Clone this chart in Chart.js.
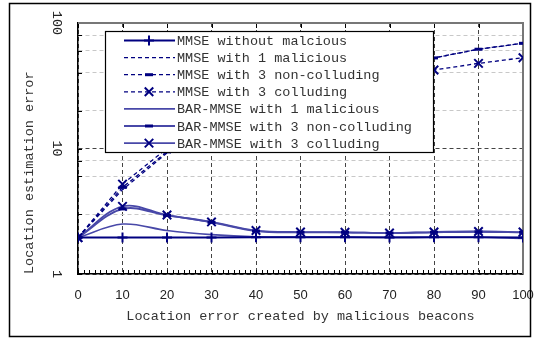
<!DOCTYPE html>
<html>
<head>
<meta charset="utf-8">
<script src="https://cdn.jsdelivr.net/npm/chart.js@4.4.1/dist/chart.umd.min.js"></script>
<style>
  html, body { margin: 0; padding: 0; background: #fff; }
  #wrap { width: 540px; height: 339px; }
</style>
</head>
<body>
<div id="wrap"><canvas id="chart" width="540" height="339"></canvas></div>
<script>
// x: location error created by malicious beacons
const xValues = [0, 10, 20, 30, 40, 50, 60, 70, 80, 90, 100];
const yTickLabels = [1, 10, 100];

// location estimation error
const mmseNone    = [1.95, 1.95, 1.95, 1.95, 1.96, 1.96, 1.96, 1.95, 1.96, 1.96, 1.95];
const mmseOne     = [1.95, 4.7, 9.2, 15, 22, 30, 37, 44, 52.7, 61.8, 68.9];
const mmseThreeNC = [1.95, 4.9, 9.4, 16, 24, 32, 40, 46, 52.7, 61.8, 68.9];
const mmseThreeC  = [1.95, 5.2, 10, 16, 22, 28, 33, 38, 42.2, 47.7, 52.9];
const barOne      = [1.95, 2.5, 2.22, 2.06, 1.98, 1.97, 1.97, 1.96, 1.96, 1.96, 1.92];
const barThreeNC  = [1.95, 3.3, 2.93, 2.58, 2.2, 2.15, 2.15, 2.12, 2.15, 2.17, 2.15];
const barThreeC   = [1.95, 3.46, 2.95, 2.6, 2.22, 2.16, 2.15, 2.12, 2.16, 2.18, 2.16];

const navy = '#000080';
const barBlue = '#4848a8';
const mono = '"Liberation Mono", "Courier New", monospace';
const sans = '"Liberation Sans", Arial, sans-serif';

function series(label, values, opts) {
    return Object.assign({
        label: label,
        data: values.map((v, i) => ({ x: xValues[i], y: v })),
        borderColor: navy,
        backgroundColor: navy,
        borderWidth: 1.3,
        pointRadius: 0,
        pointBorderColor: navy,
        pointBackgroundColor: navy,
        pointBorderWidth: 2,
        tension: 0,
        fill: false
    }, opts);
}

const datasets = [
    series('MMSE without malcious', mmseNone, { borderWidth: 2, pointStyle: 'cross', pointRadius: 5 }),
    series('MMSE with 1 malicious', mmseOne, { borderDash: [4, 3] }),
    series('MMSE with 3 non-colluding', mmseThreeNC, { borderDash: [4, 3], pointStyle: 'line', pointRadius: 4, pointBorderWidth: 3 }),
    series('MMSE with 3 colluding', mmseThreeC, { borderDash: [4, 3], pointStyle: 'crossRot', pointRadius: 6 }),
    series('BAR-MMSE with 1 malicious', barOne, { borderColor: barBlue, borderWidth: 1.6, tension: 0.35 }),
    series('BAR-MMSE with 3 non-colluding', barThreeNC, { borderColor: barBlue, borderWidth: 1.8, tension: 0.35, pointStyle: 'line', pointRadius: 4, pointBorderWidth: 3 }),
    series('BAR-MMSE with 3 colluding', barThreeC, { borderColor: barBlue, borderWidth: 1.8, tension: 0.35, pointStyle: 'crossRot', pointRadius: 6 })
];

function drawMarker(ctx, style, x, y, r) {
    ctx.beginPath();
    if (style === 'cross') {
        ctx.moveTo(x - r, y); ctx.lineTo(x + r, y);
        ctx.moveTo(x, y - r); ctx.lineTo(x, y + r);
    } else if (style === 'crossRot') {
        const d = r * 0.707;
        ctx.moveTo(x - d, y - d); ctx.lineTo(x + d, y + d);
        ctx.moveTo(x - d, y + d); ctx.lineTo(x + d, y - d);
    } else if (style === 'line') {
        ctx.moveTo(x - r, y); ctx.lineTo(x + r, y);
    }
    ctx.stroke();
}

const decor = {
    id: 'decor',
    beforeDraw(chart) {
        const ctx = chart.ctx;
        ctx.save();
        ctx.fillStyle = '#fff';
        ctx.fillRect(0, 0, chart.width, chart.height);
        ctx.restore();
    },
    beforeDatasetsDraw(chart) {
        const { ctx, chartArea: a, scales: { x, y } } = chart;
        ctx.save();
        ctx.strokeStyle = '#000';
        ctx.lineWidth = 1;
        ctx.beginPath();
        // small ticks along the bottom
        for (let v = 0; v <= 100; v += 1.25) {
            const px = Math.round(x.getPixelForValue(v)) + 0.5;
            ctx.moveTo(px, a.bottom);
            ctx.lineTo(px, a.bottom - 4);
        }
        // ticks along the top
        xValues.forEach(v => {
            const px = Math.round(x.getPixelForValue(v)) + 0.5;
            ctx.moveTo(px, a.top);
            ctx.lineTo(px, a.top + 5);
        });
        // log ticks on the left
        y.ticks.forEach(t => {
            const py = Math.round(y.getPixelForValue(t.value)) + 0.5;
            ctx.moveTo(a.left, py);
            ctx.lineTo(a.left + 4, py);
        });
        ctx.stroke();
        // top and right edge of the plot box
        ctx.strokeStyle = '#777';
        ctx.lineWidth = 2;
        ctx.beginPath();
        ctx.moveTo(a.left, a.top);
        ctx.lineTo(a.right, a.top);
        ctx.lineTo(a.right, a.bottom);
        ctx.stroke();
        ctx.restore();
    },
    afterDatasetsDraw(chart) {
        const { ctx, chartArea: a } = chart;
        const x0 = a.left + 27, y0 = a.top + 8, w = 328, h = 121;
        ctx.save();
        ctx.fillStyle = '#fff';
        ctx.fillRect(x0, y0, w, h);
        ctx.strokeStyle = '#000';
        ctx.lineWidth = 1.2;
        ctx.strokeRect(x0 + 0.5, y0 + 0.5, w, h);
        ctx.font = '13.5px ' + mono;
        ctx.textBaseline = 'middle';
        chart.data.datasets.forEach((ds, i) => {
            const ry = y0 + 9.5 + 17.1 * i;
            ctx.strokeStyle = ds.borderColor;
            ctx.lineWidth = ds.borderWidth;
            ctx.setLineDash(ds.borderDash || []);
            ctx.beginPath();
            ctx.moveTo(x0 + 19, ry);
            ctx.lineTo(x0 + 70, ry);
            ctx.stroke();
            ctx.setLineDash([]);
            if (ds.pointStyle && ds.pointRadius) {
                ctx.strokeStyle = ds.pointBorderColor;
                ctx.lineWidth = ds.pointBorderWidth;
                drawMarker(ctx, ds.pointStyle, x0 + 44, ry, ds.pointRadius);
            }
            ctx.fillStyle = '#333';
            ctx.fillText(ds.label, x0 + 72, ry + 1);
        });
        ctx.restore();
    },
    afterDraw(chart) {
        const ctx = chart.ctx;
        ctx.save();
        ctx.strokeStyle = '#000';
        ctx.lineWidth = 1.5;
        ctx.strokeRect(9.5, 3.5, 521, 333);
        ctx.restore();
    }
};

new Chart(document.getElementById('chart'), {
    type: 'line',
    data: { datasets: datasets },
    plugins: [decor],
    options: {
        responsive: false,
        animation: false,
        devicePixelRatio: 1,
        layout: { padding: { left: 12, right: 17, top: 23, bottom: 7 } },
        plugins: {
            legend: { display: false },
            tooltip: { enabled: false }
        },
        scales: {
            x: {
                type: 'linear',
                min: 0,
                max: 100,
                afterFit: s => { s.height = 58; s.paddingLeft = 0; s.paddingRight = 0; },
                afterBuildTicks: s => { s.ticks = xValues.map(v => ({ value: v })); },
                ticks: { padding: 14, color: '#222', font: { family: sans, size: 13 } },
                grid: { color: '#444', lineWidth: 1, drawTicks: false },
                border: { display: true, color: '#000', width: 1.5, dash: [4, 3] },
                title: {
                    display: true,
                    text: 'Location error created by malicious beacons',
                    color: '#333',
                    font: { family: mono, size: 13.5 },
                    padding: { top: 0, bottom: 7 }
                }
            },
            y: {
                type: 'logarithmic',
                min: 1,
                max: 100,
                afterFit: s => { s.width = 66; s.paddingTop = 0; s.paddingBottom = 0; },
                ticks: {
                    minRotation: -90,
                    maxRotation: -90,
                    crossAlign: 'center',
                    padding: 9,
                    color: '#222',
                    font: { family: mono, size: 13.5 },
                    callback: v => yTickLabels.includes(v) ? String(v) : ''
                },
                grid: {
                    drawTicks: false,
                    lineWidth: 1,
                    color: c => yTickLabels.includes(c.tick.value) ? '#444' : '#c8c8c8'
                },
                border: { display: true, color: '#000', width: 1.5, dash: [4, 3] },
                title: {
                    display: true,
                    text: 'Location estimation error',
                    align: 'start',
                    color: '#333',
                    font: { family: mono, size: 13.5 },
                    padding: { top: 9, bottom: 0 }
                }
            }
        }
    }
});
</script>
</body>
</html>
